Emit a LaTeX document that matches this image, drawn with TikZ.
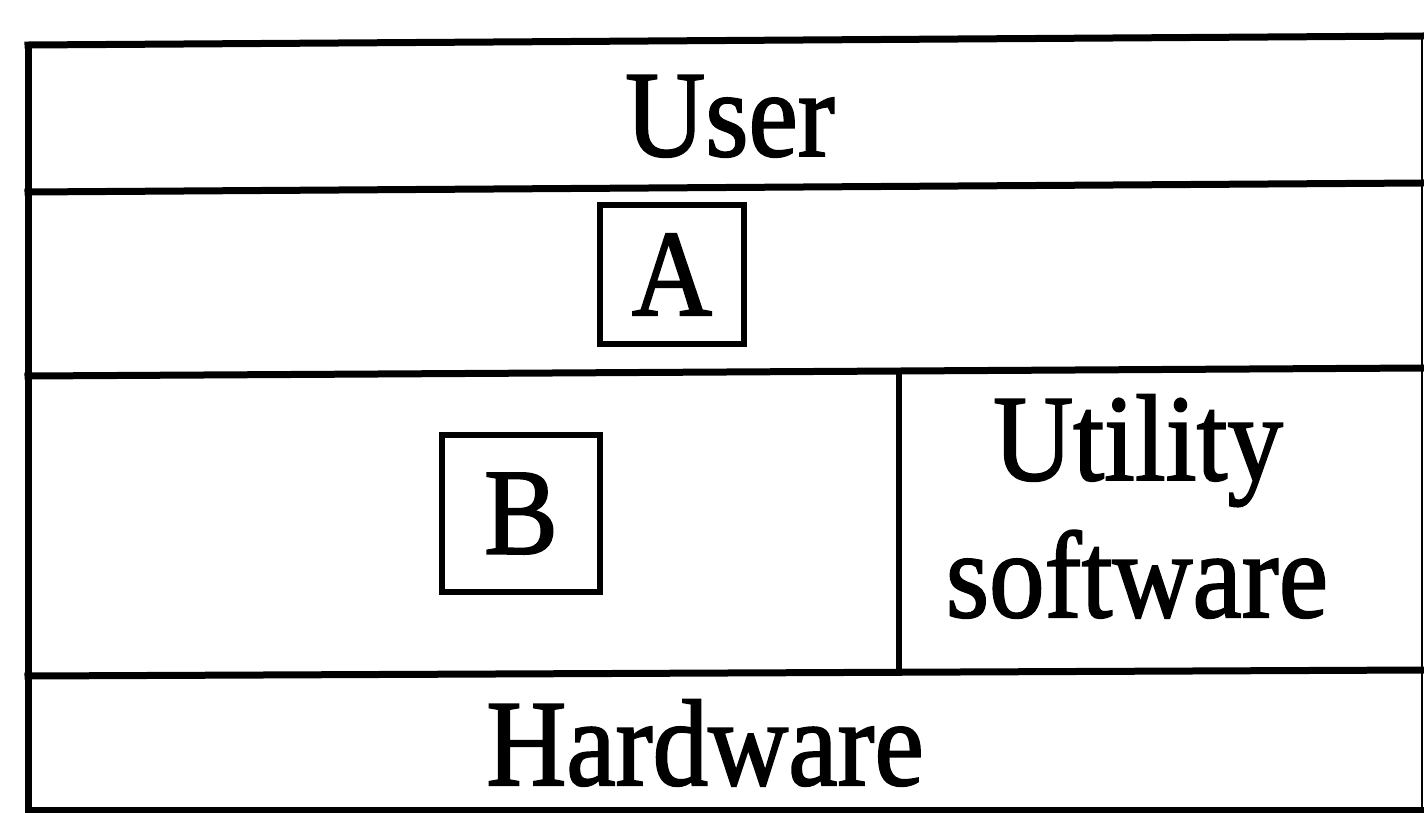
\documentclass[tikz,border=0pt]{standalone}
\usepackage{fontspec}
\setmainfont{Liberation Serif}[BoldFont=Liberation Serif, BoldFeatures={FakeBold=1.6}]
\usepackage{graphicx}
\newcommand{\tallt}[1]{\scalebox{1}[1.11]{\bfseries #1}}
\begin{document}
\begin{tikzpicture}[x=1pt,y=-1pt,
  rule/.style={line width=7pt, line cap=rect},
  thinrule/.style={line width=2.5pt},
  lbl/.style={anchor=base, inner sep=0pt, font=\fontsize{111}{137}\selectfont},
  framebox/.style={draw, line width=6pt, inner sep=0pt, font=\fontsize{111}{137}\selectfont}]
\useasboundingbox (0,0) rectangle (1424,812);
% corner and rule end points
\coordinate (TL) at (28,45);   \coordinate (TR) at (1422,36);
\coordinate (L2) at (28,192);  \coordinate (R2) at (1422,183);
\coordinate (L3) at (28,376);  \coordinate (R3) at (1422,368);
\coordinate (L4) at (28,676);  \coordinate (R4) at (1422,670);
\coordinate (BL) at (28,810);  \coordinate (BR) at (1422,810);
\coordinate (D3) at (899,370); \coordinate (D4) at (899,673);
% rules
\draw[rule] (TL) -- (TR);
\draw[rule] (L2) -- (R2);
\draw[rule] (L3) -- (R3);
\draw[rule] (L4) -- (R4);
\draw[rule] (BL) -- (BR);
\draw[rule] (TL) -- (BL);
\draw[thinrule] (TR) -- (BR);
\draw[line width=6pt] (D3) -- (D4);
% texts
\node[lbl] (user) at (730,156) {\tallt{User}};
\node[framebox, minimum width=144pt, minimum height=139pt] (A) at (672,274.5) {\tallt{A}};
\node[framebox, minimum width=158pt, minimum height=157pt] (B) at (521,513.5) {\tallt{B}};
\node[lbl] (util) at (1138,480) {\tallt{Utility}};
\node[lbl] (soft) at (1137,617) {\tallt{software}};
\node[lbl] (hw) at (705,785) {\tallt{Hardware}};
\end{tikzpicture}
\end{document}
